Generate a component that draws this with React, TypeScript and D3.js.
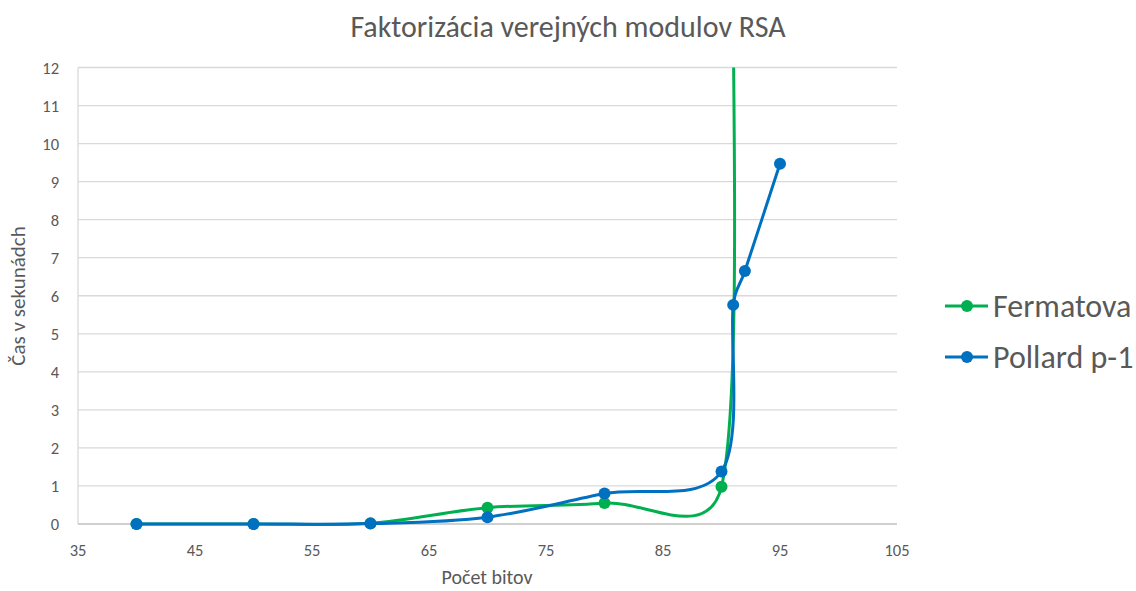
import React from "react";
import * as d3 from "d3";

const title = "Faktorizácia verejných modulov RSA";
const xTitle = "Počet bitov";
const yTitle = "Čas v sekunádch";

const seriesNames = ["Fermatova", "Pollard p-1"];
const seriesColors = ["#00B050", "#0070C0"];

const fermatBits = [40, 50, 60, 70, 80, 90, 91];
const fermatTimes = [0, 0, 0.02, 0.43, 0.55, 0.98, 15];

const pollardBits = [40, 50, 60, 70, 80, 90, 91, 92, 95];
const pollardTimes = [0, 0, 0.01, 0.18, 0.8, 1.38, 5.76, 6.65, 9.47];

const xTicks = [35, 45, 55, 65, 75, 85, 95, 105];
const yTicks = [0, 1, 2, 3, 4, 5, 6, 7, 8, 9, 10, 11, 12];

const W = 1136;
const H = 591;
const plot = { left: 78, right: 897, top: 67.5, bottom: 524 };
const FONT = "Carlito, Calibri, Lato, 'Open Sans', sans-serif";
const TEXT = "#595959";

// Excel-like smoothed line (Bezier with capped control lengths)
class ExcelSmooth {
  _context: any;
  _pts: [number, number][] = [];
  constructor(context: any) {
    this._context = context;
  }
  areaStart() {}
  areaEnd() {}
  lineStart() {
    this._pts = [];
  }
  point(x: number, y: number) {
    this._pts.push([+x, +y]);
  }
  lineEnd() {
    const p = this._pts;
    const c = this._context;
    const n = p.length;
    if (!n) return;
    c.moveTo(p[0][0], p[0][1]);
    if (n === 1) return;
    const dist = (a: number[], b: number[]) => Math.hypot(a[0] - b[0], a[1] - b[1]);
    for (let i = 0; i < n - 1; i++) {
      const p0 = p[Math.max(i - 1, 0)];
      const p1 = p[i];
      const p2 = p[i + 1];
      const p3 = p[Math.min(i + 2, n - 1)];
      const d02 = dist(p0, p2);
      const d12 = dist(p1, p2);
      const d13 = dist(p1, p3);
      const f1 = d02 / 6 < d12 / 2 ? 1 / 6 : d12 / (2 * d02);
      const f2 = d13 / 6 < d12 / 2 ? 1 / 6 : d12 / (2 * d13);
      const c1x = p1[0] + f1 * (p2[0] - p0[0]);
      const c1y = p1[1] + f1 * (p2[1] - p0[1]);
      const c2x = p2[0] - f2 * (p3[0] - p1[0]);
      const c2y = p2[1] - f2 * (p3[1] - p1[1]);
      c.bezierCurveTo(c1x, c1y, c2x, c2y, p2[0], p2[1]);
    }
  }
}
const curveExcel = (context: any) => new ExcelSmooth(context) as any;

export default function App() {
  const x = d3.scaleLinear().domain([35, 105]).range([plot.left, plot.right]);
  const y = d3.scaleLinear().domain([0, 12]).range([plot.bottom, plot.top]);

  const series = [
    { name: seriesNames[0], color: seriesColors[0], pts: fermatBits.map((b, i) => [b, fermatTimes[i]] as [number, number]) },
    { name: seriesNames[1], color: seriesColors[1], pts: pollardBits.map((b, i) => [b, pollardTimes[i]] as [number, number]) },
  ];

  const line = d3
    .line<[number, number]>()
    .x((d) => x(d[0]))
    .y((d) => y(d[1]))
    .curve(curveExcel);

  return (
    <svg width={W} height={H} style={{ position: "absolute", left: 0, top: 0, background: "#fff" }} fontFamily={FONT}>
      <defs>
        <clipPath id="plotclip">
          <rect x={plot.left - 10} y={plot.top} width={plot.right - plot.left + 20} height={plot.bottom - plot.top + 20} />
        </clipPath>
      </defs>
      <rect x={0} y={0} width={W} height={H} fill="#fff" />
      <text x={568} y={37} textAnchor="middle" fontSize={30} fill={TEXT}>
        {title}
      </text>
      {yTicks.map((t) => (
        <g key={t}>
          {t > 0 && (
            <line x1={plot.left} x2={plot.right} y1={y(t)} y2={y(t)} stroke="#D9D9D9" strokeWidth={1.3} />
          )}
          <text x={59} y={y(t) + 6} textAnchor="end" fontSize={16.5} fill={TEXT}>
            {t}
          </text>
        </g>
      ))}
      <line x1={plot.left} x2={plot.left} y1={plot.top} y2={plot.bottom} stroke="#D9D9D9" strokeWidth={1.3} />
      <line x1={plot.left} x2={plot.right} y1={plot.bottom} y2={plot.bottom} stroke="#BFBFBF" strokeWidth={1.3} />
      {xTicks.map((t) => (
        <text key={t} x={x(t)} y={556} textAnchor="middle" fontSize={16.5} fill={TEXT}>
          {t}
        </text>
      ))}
      <text x={487} y={584} textAnchor="middle" fontSize={20} fill={TEXT}>
        {xTitle}
      </text>
      <text transform={`translate(25,296) rotate(-90)`} textAnchor="middle" fontSize={21} fill={TEXT}>
        {yTitle}
      </text>
      <g clipPath="url(#plotclip)">
        {series.map((s) => (
          <g key={s.name}>
            <path d={line(s.pts) || ""} fill="none" stroke={s.color} strokeWidth={3} strokeLinejoin="round" />
            {s.pts.map((p, i) => (
              <circle key={i} cx={x(p[0])} cy={y(p[1])} r={6} fill={s.color} />
            ))}
          </g>
        ))}
      </g>
      {series.map((s, i) => {
        const ly = 306 + i * 51;
        return (
          <g key={s.name}>
            <line x1={945} x2={988} y1={ly} y2={ly} stroke={s.color} strokeWidth={3} />
            <circle cx={967} cy={ly} r={6} fill={s.color} />
            <text x={993} y={ly + 11} fontSize={32} fill={TEXT}>
              {s.name}
            </text>
          </g>
        );
      })}
    </svg>
  );
}
